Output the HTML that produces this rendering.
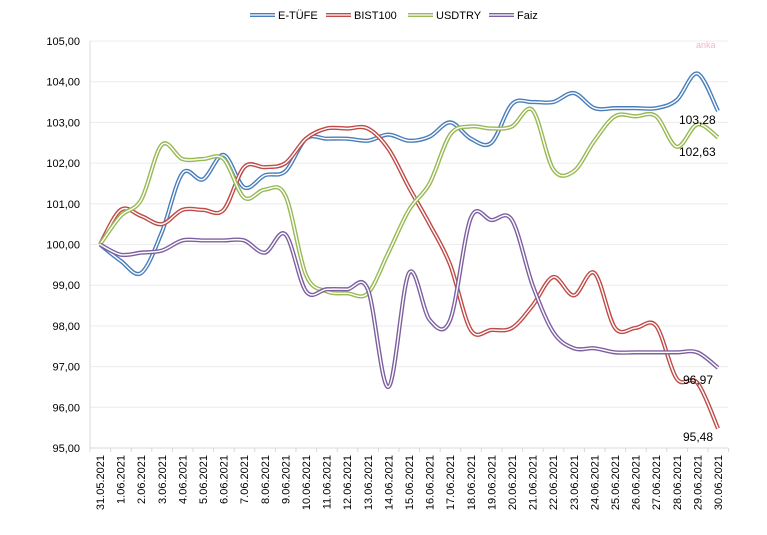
<!DOCTYPE html><html><head><meta charset="utf-8"><style>body{margin:0;background:#fff}svg{display:block;font-family:"Liberation Sans",sans-serif}</style></head><body>
<svg id="s" width="767" height="535" xmlns="http://www.w3.org/2000/svg">
<g id="grid"></g><g id="lines"></g><g id="labels" font-size="11" fill="#000"></g>
<text x="696" y="48" font-size="9" fill="#f3b6c4">anka</text>
<g font-size="11" fill="#000">
<line x1="250" y1="15" x2="275" y2="15" stroke="#4a7ebb" stroke-width="4"/><line x1="250" y1="15" x2="275" y2="15" stroke="#fff" stroke-width="1.3"/><text x="278" y="19">E-TÜFE</text>
<line x1="326" y1="15" x2="351" y2="15" stroke="#be4b48" stroke-width="4"/><line x1="326" y1="15" x2="351" y2="15" stroke="#fff" stroke-width="1.3"/><text x="354" y="19">BIST100</text>
<line x1="408" y1="15" x2="433" y2="15" stroke="#98b954" stroke-width="4"/><line x1="408" y1="15" x2="433" y2="15" stroke="#fff" stroke-width="1.3"/><text x="436" y="19">USDTRY</text>
<line x1="489" y1="15" x2="514" y2="15" stroke="#7d60a0" stroke-width="4"/><line x1="489" y1="15" x2="514" y2="15" stroke="#fff" stroke-width="1.3"/><text x="517" y="19">Faiz</text>
</g>
<g font-size="12" fill="#000">
<text x="679" y="124">103,28</text><text x="679" y="156">102,63</text><text x="683" y="384">96,97</text><text x="683" y="441">95,48</text>
</g>
</svg>
<script>
var ns="http://www.w3.org/2000/svg";
function el(p,t,a){var e=document.createElementNS(ns,t);for(var k in a)e.setAttribute(k,a[k]);p.appendChild(e);return e;}
var X=function(i){return 100+i*20.6}, Y=function(v){return 448-(v-95)*40.7};
var g=document.getElementById('grid'),L=document.getElementById('labels');
for(var v=95;v<=105;v++){el(g,'line',{x1:90,x2:728,y1:Y(v),y2:Y(v),stroke:'#ececec'});var t=el(L,'text',{x:80,y:Y(v)+4,'text-anchor':'end'});t.textContent=v+',00';}
el(g,'line',{x1:90,x2:90,y1:41,y2:448,stroke:'#d9d9d9'});
el(g,'line',{x1:90,x2:728,y1:448,y2:448,stroke:'#d9d9d9'});
var d=['31.05.2021'];for(var i=1;i<=30;i++)d.push(i+'.06.2021');
for(var i=0;i<=31;i++)el(g,'line',{x1:90+i*20.6,x2:90+i*20.6,y1:448,y2:452,stroke:'#d9d9d9'});
d.forEach(function(s,i){var x=X(i)+4;var t=el(L,'text',{x:x,y:455,'text-anchor':'end',transform:'rotate(-90 '+x+' 455)'});t.textContent=s;});
var S=[
['#4a7ebb',[100,99.6,99.3,100.3,101.75,101.6,102.2,101.4,101.7,101.8,102.6,102.6,102.6,102.55,102.7,102.55,102.65,103.0,102.6,102.5,103.45,103.5,103.5,103.72,103.35,103.35,103.35,103.35,103.55,104.2,103.28]],
['#be4b48',[100,100.85,100.7,100.5,100.85,100.85,100.85,101.9,101.9,102.0,102.6,102.85,102.85,102.85,102.35,101.4,100.5,99.5,97.9,97.9,97.95,98.5,99.2,98.75,99.3,97.95,97.95,98.0,96.7,96.6,95.48]],
['#98b954',[100,100.7,101.1,102.45,102.1,102.1,102.1,101.15,101.35,101.2,99.25,98.85,98.8,98.8,99.8,100.85,101.5,102.7,102.9,102.85,102.9,103.3,101.85,101.8,102.55,103.15,103.15,103.15,102.4,102.95,102.63]],
['#7d60a0',[100,99.75,99.8,99.85,100.1,100.1,100.1,100.1,99.8,100.25,98.85,98.9,98.9,98.9,96.5,99.3,98.15,98.15,100.65,100.6,100.6,99.0,97.85,97.45,97.45,97.35,97.35,97.35,97.35,97.35,96.97]]];
var lg=document.getElementById('lines');
S.forEach(function(s){var p=s[1].map(function(v,i){return [X(i),Y(v)]});var dd='M'+p[0];
for(var i=0;i<p.length-1;i++){var a=p[Math.max(i-1,0)],b=p[i],c=p[i+1],e=p[Math.min(i+2,p.length-1)],k=1/6;
dd+=' C'+(b[0]+(c[0]-a[0])*k)+','+(b[1]+(c[1]-a[1])*k)+' '+(c[0]-(e[0]-b[0])*k)+','+(c[1]-(e[1]-b[1])*k)+' '+c[0]+','+c[1];}
el(lg,'path',{d:dd,fill:'none',stroke:s[0],'stroke-width':4.2});el(lg,'path',{d:dd,fill:'none',stroke:'#fff','stroke-width':1.4});});
</script></body></html>
